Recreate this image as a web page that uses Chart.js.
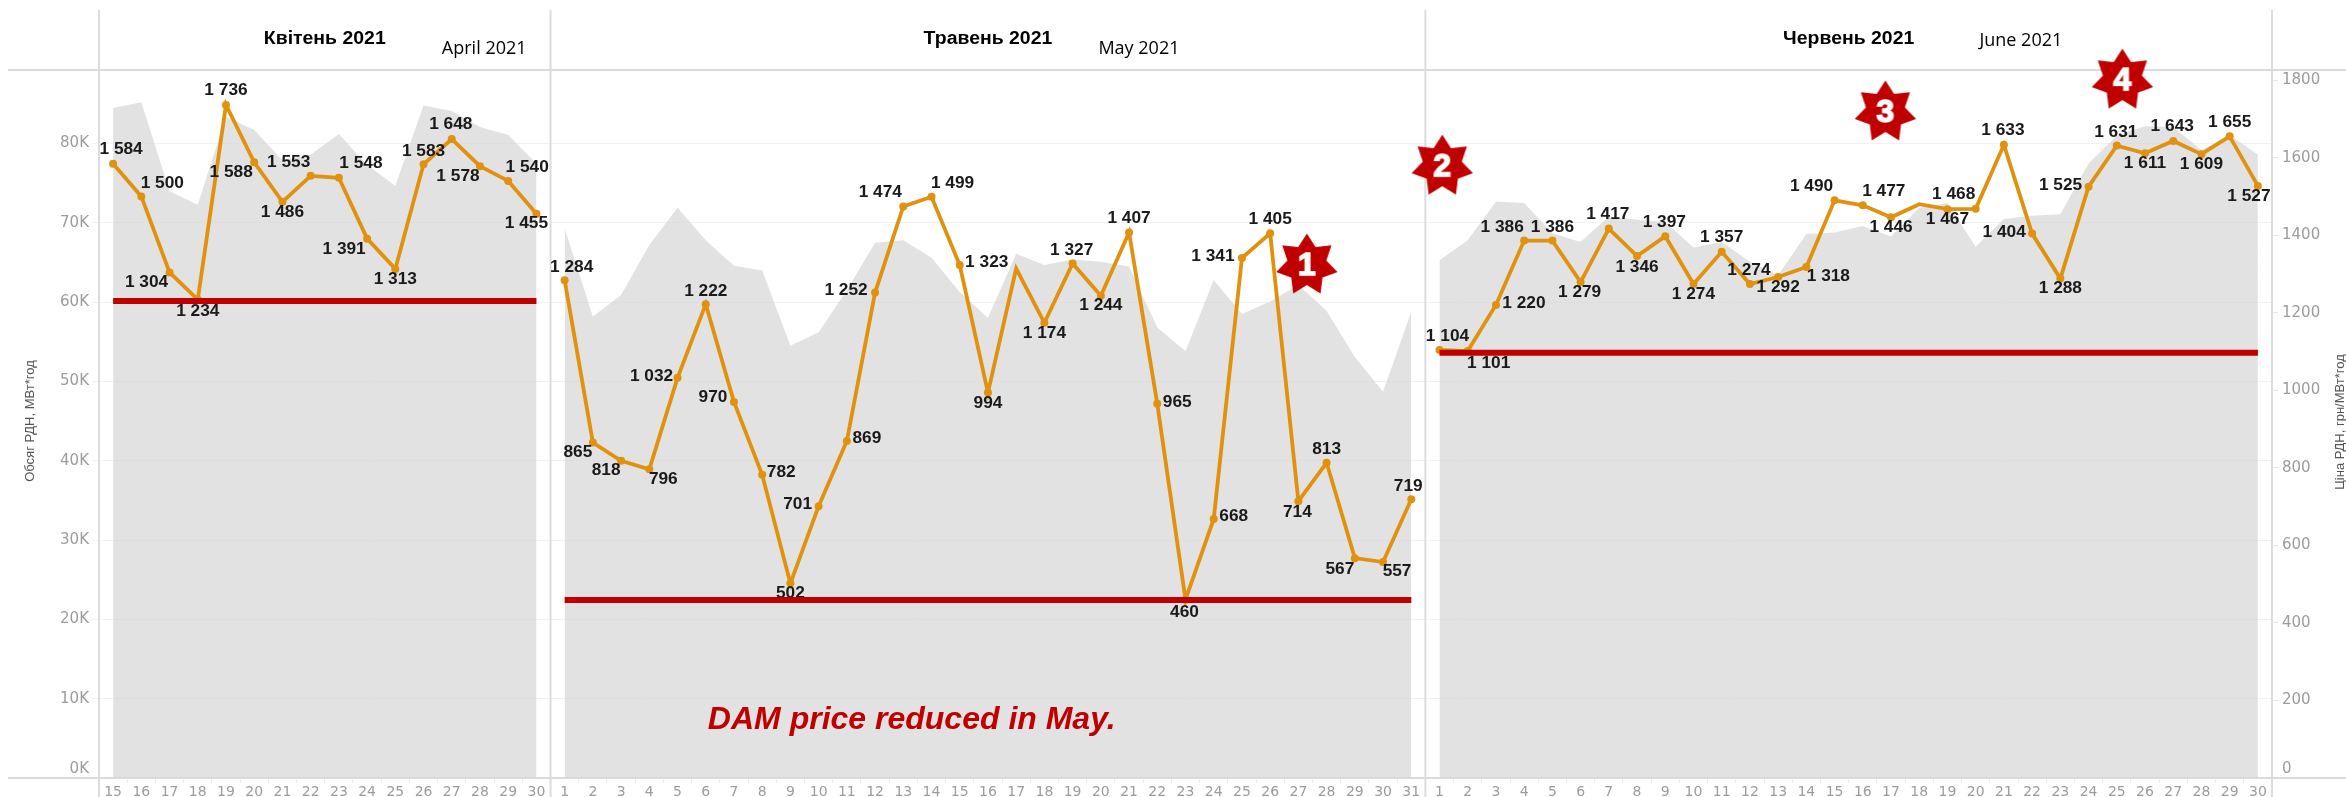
<!DOCTYPE html>
<html>
<head>
<meta charset="utf-8">
<script src="https://cdn.jsdelivr.net/npm/chart.js@4/dist/chart.umd.min.js"></script>
<style>
html,body{margin:0;padding:0;background:#fff;}
canvas{display:block;}
</style>
</head>
<body>
<canvas id="mainChart" width="2346" height="797"></canvas>
<script>
// days on the x axis, one list per month panel
const aprilDays = [15,16,17,18,19,20,21,22,23,24,25,26,27,28,29,30];
const mayDays = [1,2,3,4,5,6,7,8,9,10,11,12,13,14,15,16,17,18,19,20,21,22,23,24,25,26,27,28,29,30,31];
const juneDays = [1,2,3,4,5,6,7,8,9,10,11,12,13,14,15,16,17,18,19,20,21,22,23,24,25,26,27,28,29,30];

// axis ticks
const volumeTicks = [0,10000,20000,30000,40000,50000,60000,70000,80000];
const priceTicks = [0,200,400,600,800,1000,1200,1400,1600,1800];

// DAM price, UAH/MWh
const aprilPrice = [1584,1500,1304,1234,1736,1588,1486,1553,1548,1391,1313,1583,1648,1578,1540,1455];
const mayPrice = [1284,865,818,796,1032,1222,970,782,502,701,869,1252,1474,1499,1323,994,1314,1174,1327,1244,1407,965,460,668,1341,1405,714,813,567,557,719];
const junePrice = [1104,1101,1220,1386,1386,1279,1417,1346,1397,1274,1357,1274,1292,1318,1490,1477,1446,1480,1467,1468,1633,1404,1288,1525,1631,1611,1643,1609,1655,1527];

// DAM volume, MWh (grey area)
const aprilVolume = [84500,85200,74000,72300,83400,81700,77900,78600,81200,77300,74700,84800,84100,82100,81100,77500];
const mayVolume = [69300,58200,60900,67200,71900,67800,64600,64000,54500,56200,61500,67500,67800,65600,61300,58000,66100,64700,65400,65100,64500,56800,53800,62800,58500,60100,62200,58900,53100,48700,58800];
const juneVolume = [65300,67800,72700,72500,68700,67600,70800,70400,70100,66900,67600,65100,63400,68600,68800,69600,68300,71900,72500,67000,70500,70900,71100,77500,81000,82200,82100,79200,81100,78600];

// red reference lines, month minimum
const aprilFloor = 1230;
const mayFloor = 459;
const juneFloor = 1097;

// where each value label sits relative to its point, null = the point has no label
const aprilLabelPos = [[8,-14],[21,-13],[-23,10],[0,12],[0,-14],[-23,10],[0,11],[-22,-13],[22,-14],[-23,11],[0,11],[0,-13],[-1,-14],[-22,10],[19,-13],[-10,10]];
const mayLabelPos = [[7,-13],[-15,10],[-15,10],[14,10],[-26,-1],[0,-13],[-21,-4],[19,-2],[0,10],[-21,-2],[20,-2],[-29,-2],[-23,-14],[21,-13],[27,-2],[0,11],null,[0,11],[-1,-13],[0,10],[0,-14],[20,-1],[-1,13],[20,-2],[-29,-1],[0,-14],[-1,11],[0,-13],[-15,11],[14,10],[-3,-13]];
const juneLabelPos = [[8,-13],[21,12],[28,-1],[-22,-13],[0,-13],[-1,11],[-1,-14],[0,11],[-1,-14],[0,11],[0,-14],[-1,-13],[0,11],[22,10],[-23,-14],[21,-14],[0,10],null,[0,10],[-22,-14],[-1,-14],[-28,-1],[0,10],[-28,-1],[-1,-13],[0,10],[-1,-14],[0,10],[0,-14],[-9,11]];

// numbered red stars
const starNumbers = ['1','2','3','4'];
const starSlots = [42.3,47.1,62.8,71.2];
const starPrices = [1323,1578,1718,1800];

const monthTitles = ['Квітень 2021','Травень 2021','Червень 2021'];
const monthTitlesEn = ['April 2021','May 2021','June 2021'];
const enTitleSlots = [13.15,36.35,67.6];
const leftAxisTitle = 'Обсяг РДН, МВт*год';
const rightAxisTitle = 'Ціна РДН, грн/МВт*год';
const noteText = 'DAM price reduced in May.';

const dayLabels = [...aprilDays, ...mayDays, ...juneDays].map(String);
const totalSlots = dayLabels.length;
const aprilStart = 0, mayStart = aprilDays.length, juneStart = mayStart + mayDays.length;

// puts a month's values at the right place of the shared x axis
function padded(values, start) {
    const out = new Array(totalSlots).fill(null);
    values.forEach((v, i) => { out[start + i] = v; });
    return out;
}
function formatPrice(v) {
    return v >= 1000 ? Math.floor(v / 1000) + ' ' + String(v % 1000).padStart(3, '0') : String(v);
}
// the source text is horizontally stretched, so text is widened a bit here too
function stretchedText(ctx, text, x, y, sx) {
    ctx.save();
    ctx.translate(x, y);
    ctx.scale(sx, 1);
    ctx.fillText(text, 0, 0);
    ctx.restore();
}
function makeStar(text) {
    const c = document.createElement('canvas');
    c.width = 66; c.height = 66;
    const g = c.getContext('2d');
    const R = 31.5, r = 20;
    g.beginPath();
    for (let i = 0; i < 14; i++) {
        const a = -Math.PI / 2 + i * Math.PI / 7;
        const rad = i % 2 ? r : R;
        g.lineTo(33 + rad * Math.cos(a), 33 + rad * Math.sin(a));
    }
    g.closePath();
    g.fillStyle = '#c00000';
    g.fill();
    g.font = 'bold 32px "Liberation Sans"';
    g.textAlign = 'center';
    g.textBaseline = 'middle';
    g.fillStyle = '#fff';
    g.strokeStyle = '#fff';
    g.lineWidth = 1.5;
    g.fillText(text, 33, 34);
    g.strokeText(text, 33, 34);
    return c;
}
function noPadding(s) {
    s.paddingTop = 0; s.paddingBottom = 0; s.paddingLeft = 0; s.paddingRight = 0;
}

const GREY_FILL = 'rgba(213,213,213,0.7)', LINE_COLOR = '#e0920f', RED = '#c00000', FRAME = '#dcdcdc';

function areaSet(label, values, start) {
    return {label: label, data: padded(values, start), yAxisID: 'yVol', order: 3, borderWidth: 0, pointRadius: 0, fill: 'origin', backgroundColor: GREY_FILL, tension: 0};
}
function priceSet(label, values, start, pos) {
    return {
        label: label, data: padded(values, start), yAxisID: 'yPrice', order: 2,
        borderColor: LINE_COLOR, backgroundColor: LINE_COLOR, borderWidth: 3.8, tension: 0,
        pointBackgroundColor: LINE_COLOR, pointBorderWidth: 0,
        pointRadius: ctx => (pos[ctx.dataIndex - start] ? 4 : 0),
        labelPos: pos, labelStart: start
    };
}
function floorSet(label, value, days, start) {
    return {label: label, data: padded(days.map(() => value), start), yAxisID: 'yPrice', order: 1, borderColor: RED, borderWidth: 6, pointRadius: 0, tension: 0, borderCapStyle: 'butt'};
}

const panelPlugin = {
    id: 'panelPlugin',
    beforeDatasetsDraw(chart) {
        // frame lines of the month panels
        const ctx = chart.ctx, pos = chart.scales.xPos, area = chart.chartArea;
        ctx.save();
        ctx.strokeStyle = FRAME;
        ctx.lineWidth = 2;
        [area.top, area.bottom].forEach(y => {
            ctx.beginPath(); ctx.moveTo(8, y); ctx.lineTo(chart.width, y); ctx.stroke();
        });
        [-0.5, mayStart - 0.5, juneStart - 0.5, totalSlots - 0.5].forEach(s => {
            const x = pos.getPixelForValue(s);
            ctx.beginPath(); ctx.moveTo(x, 10); ctx.lineTo(x, chart.height); ctx.stroke();
        });
        ctx.restore();
    },
    beforeDatasetDraw(chart, args) {
        // value labels go on just before the red lines so the lines stay on top of them
        if (chart.data.datasets[args.index].label !== 'floor June') return;
        const ctx = chart.ctx;
        ctx.save();
        ctx.font = 'bold 16px "Liberation Sans"';
        ctx.fillStyle = '#1a1a1a';
        ctx.textAlign = 'center';
        ctx.textBaseline = 'middle';
        chart.data.datasets.forEach((ds, di) => {
            if (!ds.labelPos) return;
            const meta = chart.getDatasetMeta(di);
            ds.labelPos.forEach((p, i) => {
                if (!p) return;
                const pt = meta.data[ds.labelStart + i];
                stretchedText(ctx, formatPrice(ds.data[ds.labelStart + i]), pt.x + p[0], pt.y + p[1], 1.08);
            });
        });
        ctx.restore();
    },
    afterDraw(chart) {
        const ctx = chart.ctx, pos = chart.scales.xPos, yP = chart.scales.yPrice;
        ctx.save();
        ctx.textAlign = 'center';
        ctx.textBaseline = 'middle';
        const edges = [-0.5, mayStart - 0.5, juneStart - 0.5, totalSlots - 0.5];
        ctx.fillStyle = '#000';
        ctx.font = 'bold 18px "Liberation Sans"';
        monthTitles.forEach((t, i) => {
            stretchedText(ctx, t, pos.getPixelForValue((edges[i] + edges[i + 1]) / 2), 39, 1.08);
        });
        ctx.font = '18px "Open Sans"';
        monthTitlesEn.forEach((t, i) => {
            ctx.fillText(t, pos.getPixelForValue(enTitleSlots[i]), i === 2 ? 41 : 49);
        });
        ctx.fillStyle = RED;
        ctx.font = 'italic bold 32px "Liberation Sans"';
        ctx.fillText(noteText, pos.getPixelForValue(28.3), yP.getPixelForValue(150));
        // axis titles, both read bottom to top
        ctx.fillStyle = '#555';
        ctx.font = '13px "Liberation Sans"';
        ctx.translate(30, 421); ctx.rotate(-Math.PI / 2); ctx.fillText(leftAxisTitle, 0, 0);
        ctx.rotate(Math.PI / 2); ctx.translate(-30, -421);
        ctx.translate(2340, 422); ctx.rotate(-Math.PI / 2); ctx.fillText(rightAxisTitle, 0, 0);
        ctx.restore();
    }
};

new Chart(document.getElementById('mainChart'), {
    type: 'line',
    data: {
        labels: dayLabels,
        datasets: [
            {label: 'stars', type: 'scatter', xAxisID: 'xPos', yAxisID: 'yPrice', order: 0, clip: false, showLine: false,
                data: starSlots.map((s, i) => ({x: s, y: starPrices[i]})), pointStyle: starNumbers.map(makeStar)},
            floorSet('floor April', aprilFloor, aprilDays, aprilStart),
            floorSet('floor May', mayFloor, mayDays, mayStart),
            floorSet('floor June', juneFloor, juneDays, juneStart),
            priceSet('price April', aprilPrice, aprilStart, aprilLabelPos),
            priceSet('price May', mayPrice, mayStart, mayLabelPos),
            priceSet('price June', junePrice, juneStart, juneLabelPos),
            areaSet('volume April', aprilVolume, aprilStart),
            areaSet('volume May', mayVolume, mayStart),
            areaSet('volume June', juneVolume, juneStart)
        ]
    },
    options: {
        responsive: false,
        animation: false,
        layout: {padding: {top: 70, left: 0, right: 0, bottom: 0}},
        plugins: {legend: {display: false}, tooltip: {enabled: false}},
        scales: {
            x: {
                type: 'category',
                offset: true,
                border: {display: false},
                grid: {offset: true, drawOnChartArea: false, tickLength: 5, tickColor: '#eaeaea', lineWidth: 1},
                ticks: {autoSkip: false, maxRotation: 0, minRotation: 0, padding: 1, color: '#9c9c9c', font: {size: 14, family: '"DejaVu Sans"'}},
                afterFit: s => { s.height = 19; noPadding(s); }
            },
            xPos: {type: 'linear', display: false, min: -0.5, max: totalSlots - 0.5},
            yVol: {
                position: 'left', min: 0, max: 89281,
                border: {display: false},
                grid: {color: '#f1f1f1', tickLength: 7, lineWidth: 1},
                afterBuildTicks: s => { s.ticks = volumeTicks.map(v => ({value: v})); },
                ticks: {
                    padding: 3, color: '#9c9c9c', font: {size: 15, family: '"DejaVu Sans"'},
                    // the extra empty line lifts the zero label above the axis line
                    callback: v => (v === 0 ? ['0K', ''] : v / 1000 + 'K')
                },
                afterFit: s => { s.width = 99; noPadding(s); }
            },
            yPrice: {
                position: 'right', min: 0, max: 1826,
                border: {display: false},
                grid: {drawOnChartArea: false, tickLength: 6, color: '#e6e6e6'},
                afterBuildTicks: s => { s.ticks = priceTicks.map(v => ({value: v})); },
                ticks: {
                    padding: 4, color: '#9c9c9c', font: {size: 15, family: '"DejaVu Sans"'},
                    callback: v => (v === 0 ? ['0', ''] : String(v))
                },
                afterFit: s => { s.width = 74; noPadding(s); }
            }
        }
    },
    plugins: [panelPlugin]
});
</script>
</body>
</html>
